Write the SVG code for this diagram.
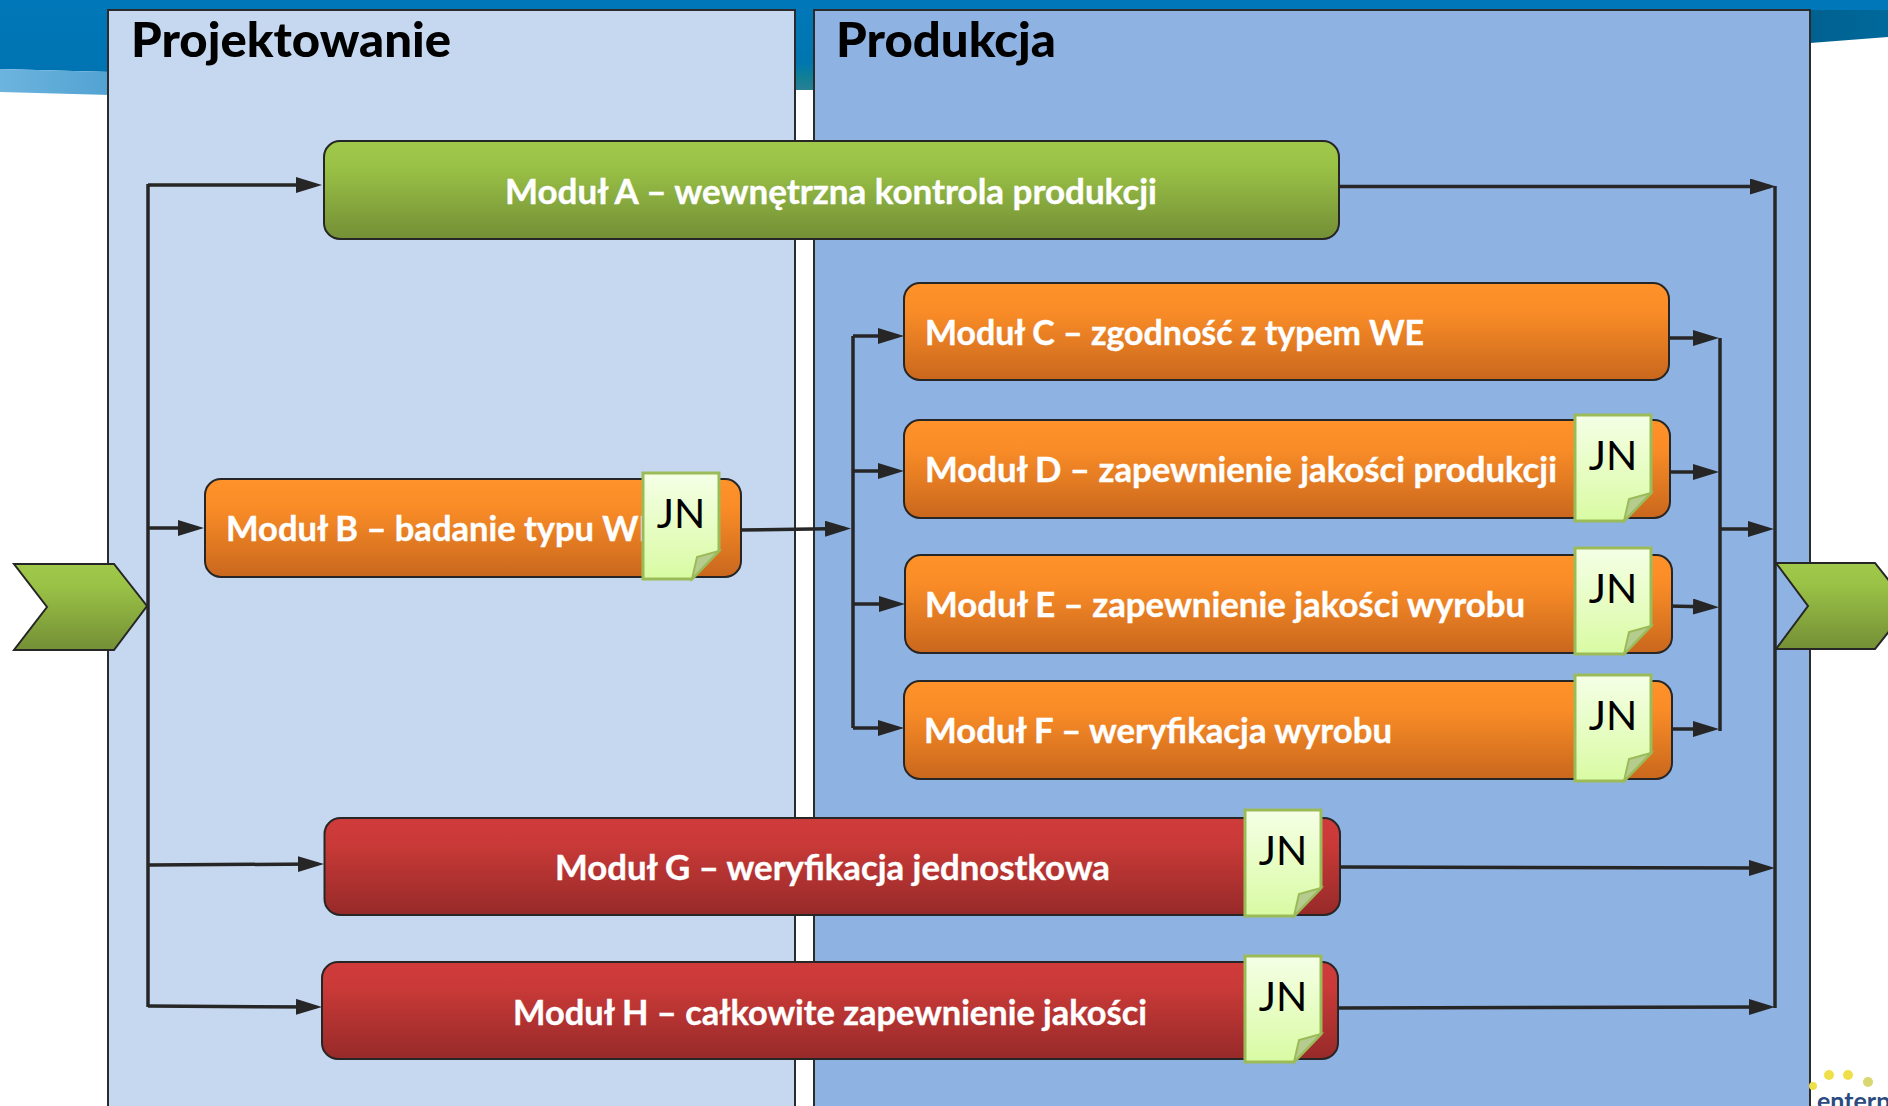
<svg xmlns="http://www.w3.org/2000/svg" width="1888" height="1106" viewBox="0 0 1888 1106">
<style>
.panel{stroke:#2b2b2b;stroke-width:2}
.box{stroke:#262626;stroke-width:2}
.lbl{font-family:Lato,"Liberation Sans",sans-serif;font-weight:700;font-size:35px;fill:#fff;stroke:#fff;stroke-width:.4}
.title{font-family:Lato,"Liberation Sans",sans-serif;font-weight:900;font-size:48px;fill:#000}
.jn{font-family:Lato,"Liberation Sans",sans-serif;font-size:41px;fill:#000;text-anchor:middle}
.note{fill:url(#gN);stroke:#9bbb59;stroke-width:3;stroke-linejoin:miter}
.fold{fill:#b5cc8e;stroke:#9bbb59;stroke-width:2}
.c{fill:none;stroke:#262626;stroke-width:3.500}
.a{marker-end:url(#ah)}
</style>
<defs>
<linearGradient id="gG" x1="0" y1="0" x2="0" y2="1"><stop offset="0" stop-color="#a0c84a"/><stop offset="0.25" stop-color="#9ac246"/><stop offset="1" stop-color="#748f36"/></linearGradient>
<linearGradient id="gO" x1="0" y1="0" x2="0" y2="1"><stop offset="0" stop-color="#ff9229"/><stop offset="0.3" stop-color="#f98c27"/><stop offset="1" stop-color="#c9671d"/></linearGradient>
<linearGradient id="gR" x1="0" y1="0" x2="0" y2="1"><stop offset="0" stop-color="#cf3b3b"/><stop offset="0.25" stop-color="#ca3a38"/><stop offset="1" stop-color="#962a29"/></linearGradient>
<linearGradient id="gN" x1="0" y1="0" x2="0" y2="1"><stop offset="0" stop-color="#f5ffe6"/><stop offset="1" stop-color="#d9fba3"/></linearGradient>
<linearGradient id="gH" x1="0" y1="0" x2="0" y2="1"><stop offset="0" stop-color="#0077b8"/><stop offset="1" stop-color="#0074b2"/></linearGradient>
<linearGradient id="gB" x1="0" y1="0" x2="1" y2="0"><stop offset="0" stop-color="#6cb4de"/><stop offset="1" stop-color="#52a2d2"/></linearGradient>
<linearGradient id="gT" x1="0" y1="0" x2="1" y2="0"><stop offset="0" stop-color="#00618f"/><stop offset="1" stop-color="#00699b"/></linearGradient>
<linearGradient id="gGap" x1="0" y1="0" x2="0" y2="1"><stop offset="0" stop-color="#0077b8"/><stop offset="0.7" stop-color="#0076b0"/><stop offset="0.85" stop-color="#0f7f96"/><stop offset="1" stop-color="#2a7f94"/></linearGradient>
<marker id="ah" markerUnits="userSpaceOnUse" markerWidth="27" markerHeight="18" refX="20" refY="8" orient="auto"><path d="M0,0L26,8L0,16Z" fill="#262626"/></marker>
<g id="noteShape">
<path class="note" d="M0,0H76V78L49,106H0Z"/>
<path class="fold" d="M76,78L54,84L49,106Z"/>
</g>
</defs>

<g id="header">
<rect x="0" y="0" width="1888" height="12" fill="#0077b8"/>
<path d="M0,0H110V72L0,69Z" fill="url(#gH)"/>
<path d="M0,69L110,72V95L0,92Z" fill="url(#gB)"/>
<path d="M1810,10H1888V37L1810,43Z" fill="url(#gT)"/>
<rect x="795" y="0" width="19" height="90" fill="url(#gGap)"/>
</g>

<g id="panels">
<rect id="panel-projektowanie" class="panel" x="108" y="10" width="687" height="1110" fill="#c6d8f0"/>
<rect id="panel-produkcja" class="panel" x="814" y="10" width="996" height="1110" fill="#8eb2e2"/>
<text class="title" x="131" y="57" textLength="320" lengthAdjust="spacingAndGlyphs">Projektowanie</text>
<text class="title" x="836" y="57" textLength="220" lengthAdjust="spacingAndGlyphs">Produkcja</text>
</g>

<g id="logo">
<circle cx="1829" cy="1075" r="5" fill="#efe04a"/><circle cx="1848" cy="1075" r="5" fill="#efe04a"/><circle cx="1868" cy="1082" r="5" fill="#d9d870"/><circle cx="1813" cy="1086" r="4" fill="#efe04a"/>
<text x="1817" y="1110" font-family="Lato,'Liberation Sans',sans-serif" font-weight="700" font-size="25" fill="#2a4a80">enterp</text>
</g>

<g id="connectors">
<path class="c" d="M148,184V1007"/>
<path class="c a" d="M148,185H316"/>
<path class="c a" d="M148,528H198"/>
<path class="c a" d="M149,865L318,864"/>
<path class="c a" d="M148,1006L316,1007"/>
<path class="c a" d="M739,530L845,528.500"/>
<path class="c" d="M853,336V728"/>
<path class="c a" d="M853,336H898"/>
<path class="c a" d="M852,471H898"/>
<path class="c a" d="M852,604H899"/>
<path class="c a" d="M853,728H898"/>
<path class="c a" d="M1669,338H1713"/>
<path class="c a" d="M1670,472H1713"/>
<path class="c a" d="M1668,606L1713,607"/>
<path class="c a" d="M1669,729H1713"/>
<path class="c" d="M1720,338V731"/>
<path class="c a" d="M1721,529H1768"/>
<path class="c" d="M1775,186V1008"/>
<path class="c a" d="M1339,186.500H1770"/>
<path class="c a" d="M1340,867L1769,868"/>
<path class="c a" d="M1338,1008L1769,1007"/>
</g>

<g id="start"><path class="box" fill="url(#gG)" d="M14,564H114L147,606L114,650H14L47,607Z"/></g>
<g id="end"><path class="box" fill="url(#gG)" d="M1776,563H1875L1909,606L1875,649H1776L1808,606Z"/></g>

<g id="modul-a"><rect class="box" x="324" y="141" width="1015" height="98" rx="16" fill="url(#gG)"/><text class="lbl" x="505" y="204" textLength="652" lengthAdjust="spacingAndGlyphs">Moduł A – wewnętrzna kontrola produkcji</text></g>
<g id="modul-b"><rect class="box" x="205" y="479" width="536" height="98" rx="16" fill="url(#gO)"/><text class="lbl" x="226" y="541" style="font-size:34.500px">Moduł B – badanie typu WE</text><use href="#noteShape" x="643" y="473"/><text class="jn" x="681" y="528">JN</text></g>
<g id="modul-c"><rect class="box" x="904" y="283" width="765" height="97" rx="16" fill="url(#gO)"/><text class="lbl" x="925" y="345" textLength="499" lengthAdjust="spacingAndGlyphs">Moduł C – zgodność z typem WE</text></g>
<g id="modul-d"><rect class="box" x="904" y="420" width="766" height="98" rx="16" fill="url(#gO)"/><text class="lbl" x="925" y="482" textLength="632" lengthAdjust="spacingAndGlyphs">Moduł D – zapewnienie jakości produkcji</text><use href="#noteShape" x="1575" y="415"/><text class="jn" x="1613" y="470">JN</text></g>
<g id="modul-e"><rect class="box" x="905" y="555" width="767" height="98" rx="16" fill="url(#gO)"/><text class="lbl" x="925" y="617" textLength="600" lengthAdjust="spacingAndGlyphs">Moduł E – zapewnienie jakości wyrobu</text><use href="#noteShape" x="1575" y="548"/><text class="jn" x="1613" y="603">JN</text></g>
<g id="modul-f"><rect class="box" x="904" y="681" width="768" height="98" rx="16" fill="url(#gO)"/><text class="lbl" x="924" y="743" textLength="468" lengthAdjust="spacingAndGlyphs">Moduł F – weryfikacja wyrobu</text><use href="#noteShape" x="1575" y="675"/><text class="jn" x="1613" y="730">JN</text></g>
<g id="modul-g"><rect class="box" x="324.500" y="818" width="1015.500" height="97" rx="16" fill="url(#gR)"/><text class="lbl" x="555" y="880" textLength="555" lengthAdjust="spacingAndGlyphs">Moduł G – weryfikacja jednostkowa</text><use href="#noteShape" x="1245" y="810"/><text class="jn" x="1283" y="865">JN</text></g>
<g id="modul-h"><rect class="box" x="322" y="962" width="1016" height="97" rx="16" fill="url(#gR)"/><text class="lbl" x="513" y="1025" textLength="634" lengthAdjust="spacingAndGlyphs">Moduł H – całkowite zapewnienie jakości</text><use href="#noteShape" x="1245" y="956"/><text class="jn" x="1283" y="1011">JN</text></g>
</svg>
